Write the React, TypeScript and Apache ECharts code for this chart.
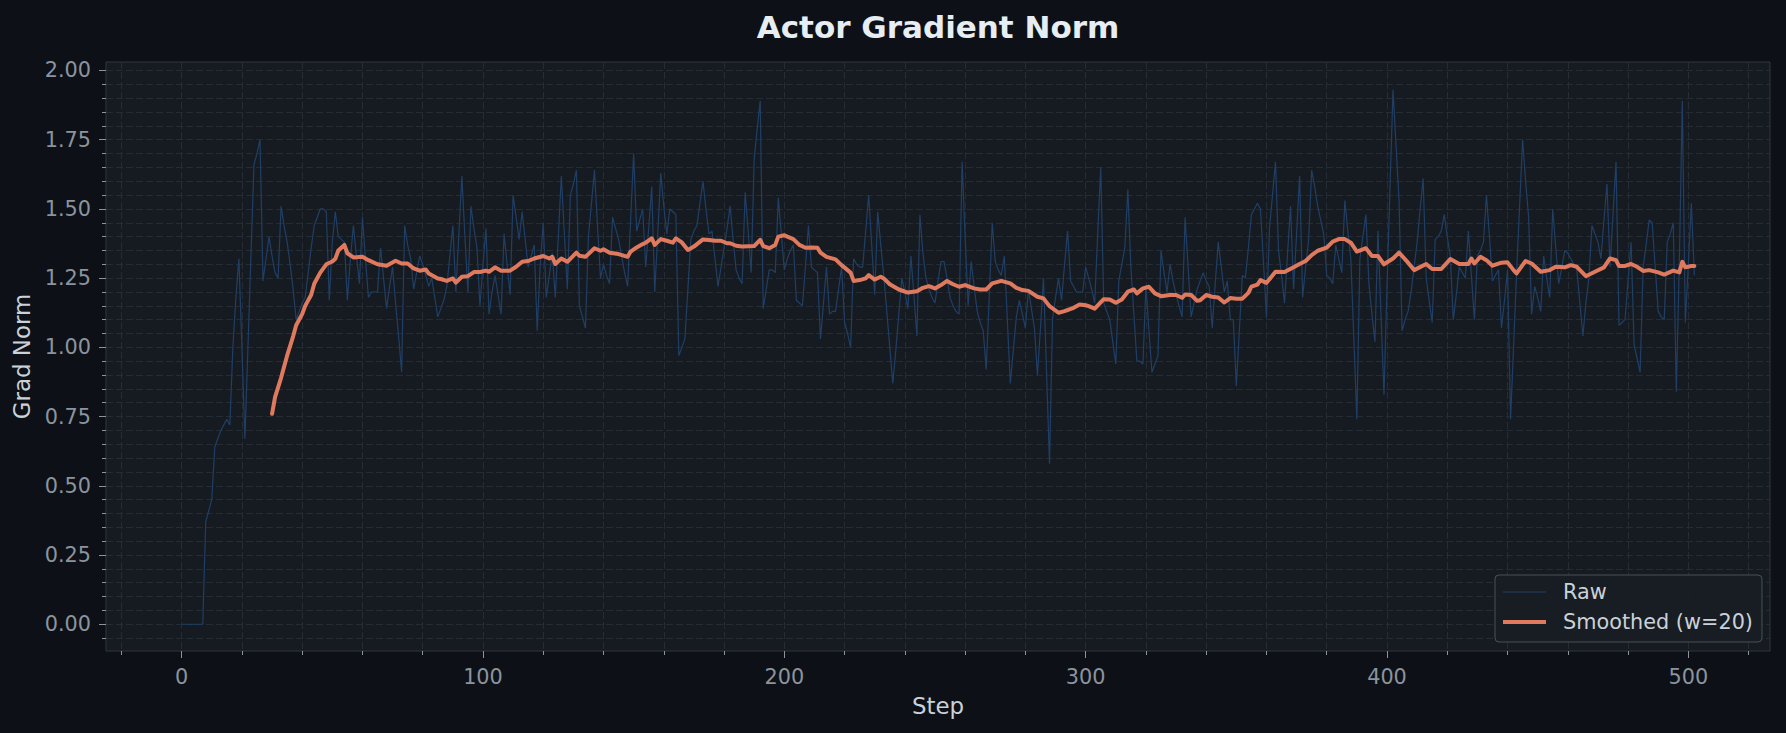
import React, { useEffect, useRef } from "react";
import * as echarts from "echarts";

// Raw gradient norm, one value per step (index = step 0..502)
const RAW_GRAD_NORM: number[] = [
  0, 0, 0, 0, 0, 0, 0, 0, 0.37, 0.41,
  0.45, 0.64, 0.67, 0.7, 0.72, 0.74, 0.72, 1.0, 1.18, 1.32,
  1.0, 0.67, 1.0, 1.33, 1.66, 1.7, 1.75, 1.24, 1.32, 1.4,
  1.33, 1.27, 1.25, 1.51, 1.44, 1.38, 1.3, 1.21, 1.1, 1.13,
  1.16, 1.18, 1.27, 1.36, 1.44, 1.47, 1.5, 1.5, 1.49, 1.17,
  1.38, 1.49, 1.4, 1.39, 1.38, 1.17, 1.32, 1.44, 1.33, 1.23,
  1.47, 1.32, 1.18, 1.2, 1.2, 1.2, 1.36, 1.25, 1.14, 1.22,
  1.29, 1.16, 1.04, 0.91, 1.44, 1.37, 1.32, 1.21, 1.27, 1.33,
  1.3, 1.26, 1.22, 1.25, 1.18, 1.11, 1.14, 1.17, 1.22, 1.33,
  1.44, 1.2, 1.41, 1.62, 1.4, 1.2, 1.51, 1.43, 1.36, 1.15,
  1.3, 1.43, 1.12, 1.2, 1.26, 1.19, 1.12, 1.41, 1.3, 1.19,
  1.55, 1.47, 1.39, 1.49, 1.39, 1.29, 1.33, 1.37, 1.06, 1.3,
  1.45, 1.18, 1.26, 1.34, 1.18, 1.4, 1.62, 1.41, 1.21, 1.55,
  1.59, 1.64, 1.15, 1.11, 1.07, 1.4, 1.52, 1.64, 1.44, 1.25,
  1.3, 1.26, 1.23, 1.47, 1.43, 1.39, 1.33, 1.27, 1.22, 1.46,
  1.7, 1.42, 1.46, 1.5, 1.29, 1.43, 1.58, 1.2, 1.41, 1.63,
  1.51, 1.41, 1.5, 1.49, 1.48, 0.97, 1.0, 1.03, 1.21, 1.39,
  1.42, 1.44, 1.52, 1.6, 1.5, 1.41, 1.42, 1.32, 1.22, 1.29,
  1.36, 1.43, 1.51, 1.39, 1.28, 1.25, 1.23, 1.56, 1.42, 1.27,
  1.68, 1.79, 1.89, 1.14, 1.21, 1.28, 1.28, 1.27, 1.54, 1.41,
  1.28, 1.32, 1.35, 1.37, 1.17, 1.16, 1.15, 1.29, 1.44, 1.29,
  1.28, 1.27, 1.03, 1.16, 1.29, 1.12, 1.13, 1.13, 1.21, 1.29,
  1.09, 1.05, 1.0, 1.32, 1.3, 1.29, 1.29, 1.42, 1.55, 1.37,
  1.19, 1.49, 1.37, 1.26, 1.13, 1.0, 0.87, 0.99, 1.12, 1.25,
  1.2, 1.14, 1.33, 1.19, 1.04, 1.48, 1.34, 1.25, 1.21, 1.18,
  1.16, 1.24, 1.31, 1.31, 1.25, 1.18, 1.15, 1.13, 1.12, 1.67,
  1.4, 1.15, 1.31, 1.22, 1.13, 1.09, 1.06, 0.92, 1.18, 1.45,
  1.31, 1.28, 1.26, 1.33, 1.1, 0.87, 0.99, 1.11, 1.17, 1.12,
  1.07, 1.21, 1.14, 1.07, 0.9, 1.07, 1.25, 0.92, 0.58, 1.1,
  1.18, 1.25, 1.17, 1.3, 1.42, 1.24, 1.22, 1.2, 1.2, 1.2,
  1.29, 1.25, 1.21, 1.16, 1.41, 1.65, 1.16, 1.13, 1.1, 1.02,
  0.94, 1.24, 1.3, 1.36, 1.57, 1.29, 1.12, 0.95, 0.95, 0.94,
  1.22, 1.06, 0.91, 0.94, 0.97, 1.35, 1.27, 1.2, 1.3, 1.24,
  1.19, 1.15, 1.11, 1.47, 1.29, 1.11, 1.16, 1.21, 1.24, 1.27,
  1.24, 1.22, 1.07, 1.23, 1.38, 1.29, 1.2, 1.24, 1.1, 1.1,
  0.86, 1.06, 1.26, 1.25, 1.36, 1.48, 1.5, 1.52, 1.5, 1.31,
  1.11, 1.43, 1.55, 1.67, 1.35, 1.26, 1.16, 1.34, 1.51, 1.21,
  1.41, 1.62, 1.18, 1.29, 1.39, 1.64, 1.58, 1.51, 1.46, 1.41,
  1.26, 1.25, 1.23, 1.37, 1.32, 1.27, 1.53, 1.42, 1.32, 1.03,
  0.74, 1.32, 1.4, 1.48, 1.23, 1.12, 1.02, 1.42, 1.12, 0.83,
  1.22, 1.58, 1.93, 1.73, 1.53, 1.06, 1.1, 1.13, 1.2, 1.29,
  1.38, 1.5, 1.61, 1.25, 1.17, 1.09, 1.39, 1.4, 1.42, 1.48,
  1.4, 1.33, 1.1, 1.19, 1.29, 1.27, 1.25, 1.42, 1.26, 1.1,
  1.33, 1.35, 1.38, 1.55, 1.4, 1.24, 1.26, 1.28, 1.07, 1.17,
  1.28, 0.74, 1.0, 1.27, 1.51, 1.75, 1.6, 1.47, 1.12, 1.22,
  1.18, 1.13, 1.33, 1.25, 1.18, 1.5, 1.36, 1.23, 1.29, 1.35,
  1.34, 1.32, 1.3, 1.28, 1.16, 1.04, 1.16, 1.25, 1.44, 1.41,
  1.38, 1.32, 1.46, 1.59, 1.29, 1.48, 1.67, 1.08, 1.09, 1.1,
  1.24, 1.38, 1.01, 0.96, 0.91, 1.29, 1.37, 1.46, 1.45, 1.29,
  1.13, 1.11, 1.1, 1.38, 1.41, 1.45, 0.84, 1.3, 1.89, 1.09,
  1.3, 1.52, 1.26,
];

// Smoothed (w=20) curve, [step, value]
const SMOOTHED: [number, number][] = [
  [30, 0.76], [31, 0.82], [33, 0.89], [35, 0.97], [37, 1.04], [38, 1.08], [40, 1.12], [41, 1.15],
  [43, 1.19], [44, 1.23], [46, 1.27], [48, 1.3], [50, 1.31], [51, 1.32], [52, 1.35], [54, 1.37],
  [55, 1.34], [57, 1.325], [60, 1.327], [62, 1.315], [65, 1.3], [68, 1.295], [71, 1.313], [73, 1.303],
  [75, 1.303], [77, 1.285], [79, 1.277], [81, 1.281], [82, 1.267], [85, 1.249], [86, 1.247], [88, 1.24],
  [90, 1.249], [91, 1.234], [93, 1.255], [95, 1.257], [97, 1.272], [99, 1.272], [101, 1.277], [102, 1.273],
  [104, 1.289], [106, 1.277], [109, 1.277], [111, 1.291], [113, 1.309], [115, 1.312], [117, 1.321], [120, 1.33],
  [122, 1.321], [123, 1.327], [124, 1.301], [126, 1.321], [128, 1.309], [131, 1.342], [132, 1.331], [134, 1.327],
  [137, 1.358], [139, 1.349], [140, 1.354], [142, 1.342], [145, 1.337], [148, 1.327], [149, 1.346], [151, 1.361],
  [153, 1.373], [154, 1.378], [156, 1.394], [157, 1.37], [159, 1.391], [161, 1.385], [163, 1.378], [164, 1.394],
  [166, 1.379], [168, 1.352], [170, 1.364], [173, 1.39], [175, 1.388], [177, 1.385], [179, 1.385], [181, 1.376],
  [182, 1.376], [184, 1.367], [186, 1.364], [190, 1.366], [192, 1.388], [193, 1.366], [195, 1.358], [197, 1.37],
  [198, 1.4], [200, 1.405], [201, 1.4], [203, 1.391], [205, 1.37], [207, 1.36], [209, 1.361], [211, 1.36],
  [212, 1.342], [214, 1.327], [217, 1.318], [219, 1.297], [222, 1.27], [223, 1.24], [225, 1.243], [227, 1.249],
  [228, 1.261], [230, 1.245], [232, 1.255], [233, 1.249], [235, 1.228], [238, 1.209], [241, 1.198], [244, 1.203],
  [246, 1.215], [248, 1.221], [250, 1.213], [252, 1.225], [254, 1.24], [256, 1.228], [258, 1.219], [260, 1.225],
  [263, 1.213], [265, 1.209], [267, 1.209], [269, 1.231], [272, 1.24], [275, 1.231], [277, 1.215], [279, 1.207],
  [281, 1.204], [284, 1.183], [286, 1.177], [288, 1.149], [291, 1.125], [293, 1.131], [296, 1.143], [298, 1.155],
  [300, 1.152], [301, 1.149], [303, 1.14], [306, 1.174], [308, 1.173], [310, 1.161], [312, 1.173], [314, 1.201],
  [316, 1.209], [317, 1.195], [319, 1.213], [321, 1.219], [323, 1.195], [325, 1.185], [328, 1.189], [330, 1.189],
  [332, 1.179], [333, 1.191], [335, 1.189], [337, 1.168], [338, 1.17], [340, 1.189], [342, 1.183], [344, 1.18],
  [346, 1.162], [348, 1.178], [350, 1.176], [352, 1.176], [354, 1.197], [355, 1.219], [357, 1.227], [358, 1.243],
  [360, 1.233], [363, 1.273], [366, 1.272], [369, 1.289], [371, 1.301], [373, 1.312], [375, 1.333], [377, 1.349],
  [380, 1.36], [382, 1.382], [384, 1.391], [386, 1.391], [388, 1.378], [390, 1.346], [392, 1.354], [393, 1.358],
  [395, 1.33], [397, 1.33], [399, 1.3], [402, 1.321], [404, 1.342], [407, 1.306], [409, 1.279], [413, 1.301],
  [415, 1.283], [418, 1.283], [421, 1.319], [424, 1.301], [427, 1.301], [428, 1.321], [429, 1.303], [431, 1.327],
  [433, 1.315], [435, 1.295], [438, 1.306], [440, 1.307], [442, 1.279], [443, 1.267], [446, 1.312], [448, 1.303],
  [451, 1.273], [454, 1.279], [456, 1.291], [459, 1.289], [461, 1.297], [463, 1.291], [466, 1.257], [469, 1.273],
  [472, 1.289], [474, 1.321], [476, 1.315], [477, 1.294], [479, 1.294], [481, 1.301], [483, 1.291], [485, 1.276],
  [487, 1.279], [490, 1.271], [492, 1.263], [495, 1.277], [497, 1.271], [498, 1.309], [499, 1.289], [501, 1.294],
  [502, 1.294],
];

const X_MAJOR_TICKS = [0, 100, 200, 300, 400, 500];
const X_MINOR_TICKS = [-20, 20, 40, 60, 80, 120, 140, 160, 180, 220, 240, 260, 280, 320, 340, 360, 380, 420, 440, 460, 480, 520];
const Y_MAJOR_TICKS = [0, 0.25, 0.5, 0.75, 1.0, 1.25, 1.5, 1.75, 2.0];
const Y_MINOR_TICKS = [
  -0.05, 0.05, 0.1, 0.15, 0.2, 0.3, 0.35, 0.4, 0.45, 0.55, 0.6, 0.65, 0.7, 0.8, 0.85, 0.9, 0.95,
  1.05, 1.1, 1.15, 1.2, 1.3, 1.35, 1.4, 1.45, 1.55, 1.6, 1.65, 1.7, 1.8, 1.85, 1.9, 1.95,
];

const X_MIN = -25.1;
const X_MAX = 527.1;
const Y_MIN = -0.0967;
const Y_MAX = 2.0307;

const FONT = "'DejaVu Sans', sans-serif";
const GRID_LINE = { color: "#262c34", width: 1, type: [7, 3] as number[] };
const TICK_COLOR = "#8b949e";
const RAW_COLOR = "#203f66";
const SMOOTH_COLOR = "#e07a5f";

// legend glyphs: a horizontal bar inside a 43x14 box (corner points keep the box size)
const RAW_ICON = "path://M0,0L0.01,0L0,0ZM43,14L43.01,14L43,14ZM0,6.4L43,6.4L43,7.6L0,7.6Z";
const SMOOTH_ICON = "path://M0,0L0.01,0L0,0ZM43,14L43.01,14L43,14ZM0,5.1L43,5.1L43,8.9L0,8.9Z";

export default function App() {
  const ref = useRef<HTMLDivElement>(null);

  useEffect(() => {
    document.body.style.margin = "0";
    document.body.style.background = "#0d1117";
    if (!ref.current) return;
    const chart = echarts.init(ref.current, undefined, { renderer: "svg" });

    const axisLineOff = { show: false, onZero: false };

    const option: any = {
      animation: false,
      backgroundColor: "#0d1117",
      textStyle: { fontFamily: FONT },
      title: {
        text: "Actor Gradient Norm",
        left: 938,
        top: 11,
        padding: 0,
        textAlign: "center",
        textStyle: { color: "#e6edf3", fontSize: 31, fontWeight: "bold", fontFamily: FONT },
      },
      grid: {
        left: 106,
        top: 62,
        width: 1664,
        height: 589,
        show: true,
        backgroundColor: "#161b22",
        borderColor: "#30363d",
        borderWidth: 1,
        containLabel: false,
      },
      legend: {
        orient: "vertical",
        left: 1495,
        top: 575,
        padding: [5, 9, 8, 8],
        itemGap: 6,
        itemWidth: 43,
        itemHeight: 14,
        backgroundColor: "rgba(24,29,36,0.9)",
        borderColor: "#4a5059",
        borderWidth: 1,
        borderRadius: 4,
        textStyle: { color: "#c9d1d9", fontSize: 20.8, fontFamily: FONT, lineHeight: 24, padding: [0, 0, 0, 12] },
        data: [
          { name: "Raw", icon: RAW_ICON, itemStyle: { color: RAW_COLOR, borderWidth: 0 } },
          { name: "Smoothed (w=20)", icon: SMOOTH_ICON, itemStyle: { color: SMOOTH_COLOR, borderWidth: 0 } },
        ],
      },
      xAxis: [
        {
          type: "value",
          min: X_MIN,
          max: X_MAX,
          position: "bottom",
          axisLine: axisLineOff,
          axisTick: { show: true, customValues: X_MAJOR_TICKS, length: 7, lineStyle: { color: TICK_COLOR } },
          axisLabel: { customValues: X_MAJOR_TICKS, color: TICK_COLOR, fontSize: 20.8, fontFamily: FONT, margin: 15 },
          splitLine: { show: true, lineStyle: GRID_LINE },
          name: "Step",
          nameLocation: "middle",
          nameGap: 43,
          nameTextStyle: { color: "#c9d1d9", fontSize: 22.9, fontFamily: FONT },
        },
        {
          type: "value",
          min: X_MIN,
          max: X_MAX,
          position: "bottom",
          axisLine: axisLineOff,
          axisTick: { show: true, customValues: X_MINOR_TICKS, length: 4, lineStyle: { color: TICK_COLOR } },
          axisLabel: { show: false },
          splitLine: { show: true, lineStyle: GRID_LINE },
        },
      ],
      yAxis: [
        {
          type: "value",
          min: Y_MIN,
          max: Y_MAX,
          position: "left",
          axisLine: axisLineOff,
          axisTick: { show: true, customValues: Y_MAJOR_TICKS, length: 7, lineStyle: { color: TICK_COLOR } },
          axisLabel: {
            customValues: Y_MAJOR_TICKS,
            color: TICK_COLOR,
            fontSize: 20.8,
            fontFamily: FONT,
            margin: 15,
            formatter: (v: number) => v.toFixed(2),
          },
          splitLine: { show: true, lineStyle: GRID_LINE },
          name: "Grad Norm",
          nameLocation: "middle",
          nameRotate: 90,
          nameGap: 70,
          nameTextStyle: { color: "#c9d1d9", fontSize: 22.9, fontFamily: FONT },
        },
        {
          type: "value",
          min: Y_MIN,
          max: Y_MAX,
          position: "left",
          axisLine: axisLineOff,
          axisTick: { show: true, customValues: Y_MINOR_TICKS, length: 4, lineStyle: { color: TICK_COLOR } },
          axisLabel: { show: false },
          splitLine: { show: true, lineStyle: GRID_LINE },
        },
      ],
      series: [
        {
          name: "Raw",
          type: "line",
          xAxisIndex: 0,
          yAxisIndex: 0,
          data: RAW_GRAD_NORM.map((v, i) => [i, v]),
          symbol: "none",
          showSymbol: false,
          silent: true,
          z: 3,
          lineStyle: { color: RAW_COLOR, width: 1.2 },
          itemStyle: { color: RAW_COLOR },
        },
        {
          name: "Smoothed (w=20)",
          type: "line",
          xAxisIndex: 0,
          yAxisIndex: 0,
          data: SMOOTHED,
          symbol: "none",
          showSymbol: false,
          silent: true,
          z: 4,
          lineStyle: { color: SMOOTH_COLOR, width: 4, join: "round", cap: "round" },
          itemStyle: { color: SMOOTH_COLOR },
        },
      ],
    };

    chart.setOption(option);
    return () => chart.dispose();
  }, []);

  return <div ref={ref} style={{ width: 1786, height: 733 }} />;
}
